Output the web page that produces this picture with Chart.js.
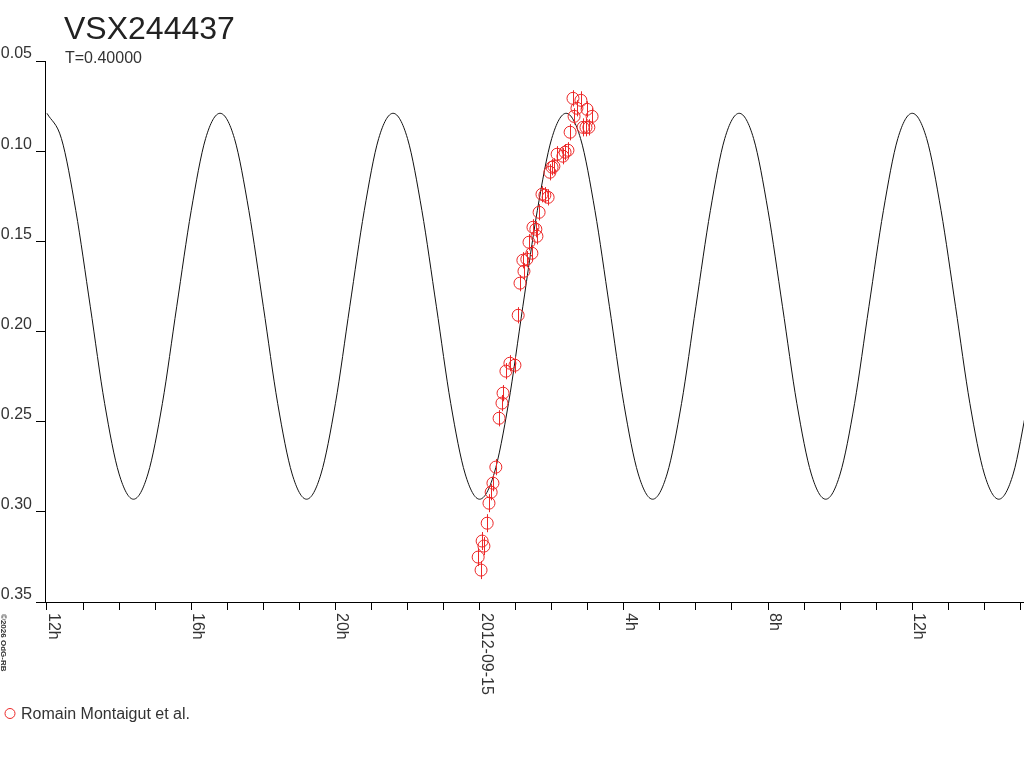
<!DOCTYPE html>
<html>
<head>
<meta charset="utf-8">
<title>VSX244437</title>
<script src="https://cdn.jsdelivr.net/npm/chart.js@4/dist/chart.umd.min.js"></script>
<style>
body { margin: 0; background: #fff; overflow: hidden; }
#chartArea { display: block; }
</style>
</head>
<body>
<canvas id="chartArea" width="1024" height="768"></canvas>
<script>
// hours counted from 2012-09-14 00:00
var obsHours = [24.04, 23.96, 24.07, 24.12, 24.21, 24.26, 24.32, 24.37, 24.45, 24.54,
    24.62, 24.65, 24.73, 24.84, 24.98, 25.07, 25.12, 25.23, 25.20, 25.31,
    25.45, 25.37, 25.48, 25.56, 25.59, 25.65, 25.73, 25.81, 25.90, 25.95,
    26.01, 26.06, 26.15, 26.31, 26.37, 26.45, 26.51, 26.62, 26.59, 26.81,
    26.70, 26.98, 27.12, 26.87, 26.95, 27.03];
var obsMag = [0.3323, 0.3251, 0.3162, 0.3190, 0.3063, 0.2952, 0.2891, 0.2841, 0.2752, 0.2481,
    0.2397, 0.2342, 0.2220, 0.2176, 0.2187, 0.1910, 0.1732, 0.1666, 0.1605, 0.1599,
    0.1566, 0.1505, 0.1422, 0.1433, 0.1472, 0.1339, 0.1239, 0.1244, 0.1256, 0.1117,
    0.1089, 0.1084, 0.1017, 0.1028, 0.1006, 0.0995, 0.0895, 0.0807, 0.0707, 0.0718,
    0.0762, 0.0768, 0.0807, 0.0868, 0.0868, 0.0868];
var obsErr = [0.0050, 0.0050, 0.0050, 0.0050, 0.0050, 0.0050, 0.0045, 0.0045, 0.0045, 0.0045,
    0.0045, 0.0045, 0.0045, 0.0045, 0.0045, 0.0045, 0.0045, 0.0045, 0.0045, 0.0045,
    0.0045, 0.0045, 0.0045, 0.0045, 0.0045, 0.0045, 0.0045, 0.0045, 0.0045, 0.0045,
    0.0045, 0.0045, 0.0045, 0.0045, 0.0045, 0.0045, 0.0045, 0.0045, 0.0045, 0.0050,
    0.0045, 0.0045, 0.0045, 0.0050, 0.0050, 0.0045];

var curveHours = [12.0, 12.4, 12.8, 13.2, 13.6, 14.0, 14.4, 14.8, 15.2, 15.6, 16.0, 16.4,
    16.8, 17.2, 17.6, 18.0, 18.4, 18.8, 19.2, 19.6, 20.0, 20.4, 20.8, 21.2,
    21.6, 22.0, 22.4, 22.8, 23.2, 23.6, 24.0, 24.4, 24.8, 25.2, 25.6, 26.0,
    26.4, 26.8, 27.2, 27.6, 28.0, 28.4, 28.8, 29.2, 29.6, 30.0, 30.4, 30.8,
    31.2, 31.6, 32.0, 32.4, 32.8, 33.2, 33.6, 34.0, 34.4, 34.8, 35.2, 35.6,
    36.0, 36.4, 36.8, 37.2, 37.6, 38.0, 38.4, 38.8, 39.2];
var curveMag = [0.079, 0.093, 0.133, 0.186, 0.240, 0.279, 0.293, 0.279, 0.240, 0.186, 0.133, 0.093,
    0.079, 0.093, 0.133, 0.186, 0.240, 0.279, 0.293, 0.279, 0.240, 0.186, 0.133, 0.093,
    0.079, 0.093, 0.133, 0.186, 0.240, 0.279, 0.293, 0.279, 0.240, 0.186, 0.133, 0.093,
    0.079, 0.093, 0.133, 0.186, 0.240, 0.279, 0.293, 0.279, 0.240, 0.186, 0.133, 0.093,
    0.079, 0.093, 0.133, 0.186, 0.240, 0.279, 0.293, 0.279, 0.240, 0.186, 0.133, 0.093,
    0.079, 0.093, 0.133, 0.186, 0.240, 0.279, 0.293, 0.279, 0.240];

var xLabelHours = [12, 16, 20, 24, 28, 32, 36];
var xLabelTexts = ['12h', '16h', '20h', '2012-09-15', '4h', '8h', '12h'];
var yTickValues = [0.05, 0.10, 0.15, 0.20, 0.25, 0.30, 0.35];

var starName = 'VSX244437';
var periodText = 'T=0.40000';
var observerName = 'Romain Montaigut et al.';
var creditText = '\u00a92026 OdG-RB';

var FONT = "'Liberation Sans', Arial, sans-serif";
var TEXT_COLOR = '#333';
var OBS_COLOR = 'rgb(236, 40, 40)';

function buildPoints(xs, ys) {
    var pts = [];
    for (var i = 0; i < xs.length; i++) {
        pts.push({ x: xs[i], y: ys[i] });
    }
    return pts;
}

// error bars, rotated time labels, title and legend
var decorPlugin = {
    id: 'decor',
    afterDatasetsDraw: function (chart) {
        var c = chart.ctx, xs = chart.scales.x, ys = chart.scales.y;
        c.save();
        c.strokeStyle = OBS_COLOR;
        c.lineWidth = 1;
        for (var i = 0; i < obsHours.length; i++) {
            var px = Math.round(xs.getPixelForValue(obsHours[i])) + 0.5;
            c.beginPath();
            c.moveTo(px, ys.getPixelForValue(obsMag[i] - obsErr[i]));
            c.lineTo(px, ys.getPixelForValue(obsMag[i] + obsErr[i]));
            c.stroke();
        }
        c.restore();
    },
    afterDraw: function (chart) {
        var c = chart.ctx, xs = chart.scales.x;
        c.save();
        c.fillStyle = TEXT_COLOR;

        // time labels read top to bottom
        c.font = '16px ' + FONT;
        c.textAlign = 'left';
        c.textBaseline = 'alphabetic';
        for (var i = 0; i < xLabelHours.length; i++) {
            c.save();
            c.translate(Math.round(xs.getPixelForValue(xLabelHours[i])) + 2, chart.chartArea.bottom + 11);
            c.rotate(Math.PI / 2);
            c.fillText(xLabelTexts[i], 0, 0);
            c.restore();
        }

        // small credit on the left edge
        c.save();
        c.font = 'bold 8px ' + FONT;
        c.translate(1, 614);
        c.rotate(Math.PI / 2);
        c.fillText(creditText, 0, 0);
        c.restore();

        // title and period
        c.fillStyle = '#222';
        c.font = '32px ' + FONT;
        c.fillText(starName, 64, 39);
        c.fillStyle = TEXT_COLOR;
        c.font = '16px ' + FONT;
        c.fillText(periodText, 65, 63);

        // legend
        c.strokeStyle = OBS_COLOR;
        c.lineWidth = 1;
        c.beginPath();
        c.arc(10, 713.5, 5, 0, Math.PI * 2);
        c.stroke();
        c.fillStyle = TEXT_COLOR;
        c.font = '16px ' + FONT;
        c.fillText(observerName, 21, 719);
        c.restore();
    }
};

var config = {
    type: 'scatter',
    data: {
        datasets: [{
            label: observerName,
            data: buildPoints(obsHours, obsMag),
            showLine: false,
            pointStyle: 'circle',
            pointRadius: 6,
            pointBorderWidth: 1,
            pointBorderColor: OBS_COLOR,
            pointBackgroundColor: 'rgba(0,0,0,0)',
            order: 1
        }, {
            label: 'model',
            data: buildPoints(curveHours, curveMag),
            showLine: true,
            pointRadius: 0,
            borderColor: '#111',
            borderWidth: 1,
            cubicInterpolationMode: 'monotone',
            fill: false,
            order: 2
        }]
    },
    options: {
        responsive: false,
        animation: false,
        devicePixelRatio: 1,
        layout: {
            autoPadding: false,
            padding: { top: 61, left: 0, right: 0, bottom: 0 }
        },
        plugins: {
            legend: { display: false },
            tooltip: { enabled: false },
            title: { display: false }
        },
        scales: {
            x: {
                type: 'linear',
                min: 11.945,
                max: 39.1,
                afterFit: function (s) {
                    s.height = 166;
                    s.paddingLeft = 0;
                    s.paddingRight = 0;
                },
                border: { display: true, color: '#000', width: 1 },
                grid: { drawOnChartArea: false, drawTicks: true, tickLength: 8, color: '#000' },
                ticks: { display: false, stepSize: 1, includeBounds: false }
            },
            y: {
                type: 'linear',
                reverse: true,
                min: 0.05,
                max: 0.35,
                afterFit: function (s) {
                    s.width = 45;
                    s.paddingTop = 0;
                    s.paddingBottom = 0;
                },
                afterBuildTicks: function (s) {
                    s.ticks = yTickValues.map(function (v) { return { value: v }; });
                },
                border: { display: true, color: '#000', width: 1 },
                grid: { drawOnChartArea: false, drawTicks: true, tickLength: 9, color: '#000' },
                ticks: {
                    padding: 4,
                    labelOffset: -7,
                    color: TEXT_COLOR,
                    font: { family: FONT, size: 16 },
                    callback: function (v) { return Number(v).toFixed(2); }
                }
            }
        }
    },
    plugins: [decorPlugin]
};

try {
    var ctx = document.getElementById('chartArea').getContext('2d');
    var myChart = new Chart(ctx, config);
}
catch (err) {
    console.log(err.message);
}
</script>
</body>
</html>
